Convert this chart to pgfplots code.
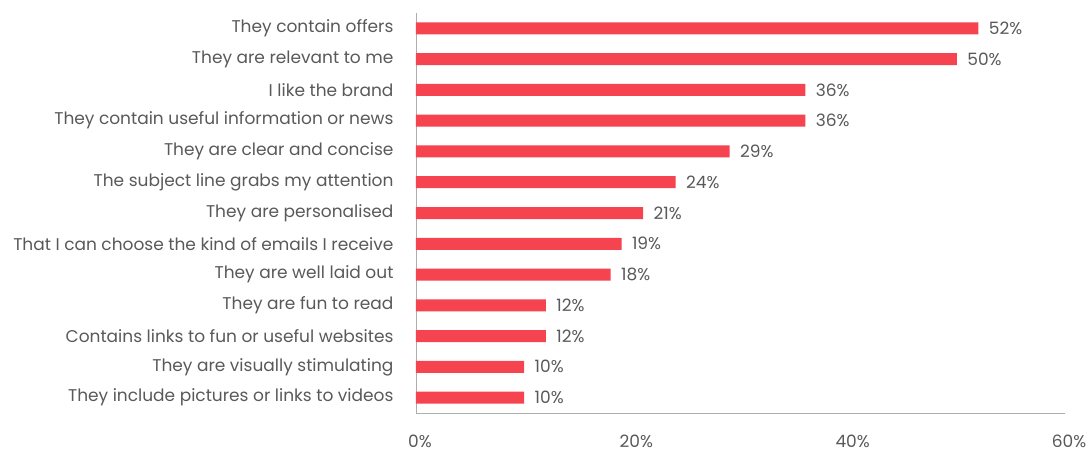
\documentclass[border=0pt]{standalone}
\usepackage{pgfplots}
\pgfplotsset{compat=1.18}
\usepackage{fontspec}
\setmainfont{Poppins}
\definecolor{barred}{HTML}{F5444F}
\definecolor{txtgray}{HTML}{595959}
\definecolor{axgray}{HTML}{ADADAD}

\pgfplotstableread{
idx val
0 52
1 50
2 36
3 36
4 29
5 24
6 21
7 19
8 18
9 12
10 12
11 10
12 10
}\reasons

\begin{document}
\begin{tikzpicture}[x=1pt,y=1pt]
\begin{axis}[
    name=ax,
    at={(0,0)}, anchor=south west,
    scale only axis,
    width=649pt, height=400pt,
    xbar, bar width=12pt,
    xmin=0, xmax=60,
    ymin=-0.5, ymax=12.5,
    y dir=reverse,
    axis lines*=left,
    axis line style={axgray, line width=0.8pt},
    xtick={0,20,40,60},
    xticklabel={\pgfmathprintnumber{\tick}\%},
    ytick=data,
    yticklabels={They contain offers, They are relevant to me, I like the brand,
      They contain useful information or news, They are clear and concise,
      The subject line grabs my attention, They are personalised,
      That I can choose the kind of emails I receive, They are well laid out,
      They are fun to read, Contains links to fun or useful websites,
      They are visually stimulating, They include pictures or links to videos},
    major tick length=0pt,
    tick label style={font=\fontsize{17}{19}\selectfont, text=txtgray},
    xticklabel style={yshift=-18pt, xshift=4pt},
    yticklabel style={xshift=-19pt},
    /pgf/number format/assume math mode=true,
    nodes near coords={\pgfmathprintnumber{\pgfplotspointmeta}\%},
    nodes near coords style={font=\fontsize{17}{19}\selectfont, text=txtgray, anchor=west, xshift=7pt},
    point meta=explicit,
]
\addplot[fill=barred, draw=none] table[x=val, y=idx, meta=val] {\reasons};
\end{axis}
\pgfresetboundingbox
\path ([shift={(-416pt,-39pt)}]ax.south west) rectangle ([shift={(674pt,413pt)}]ax.south west);
\end{tikzpicture}
\end{document}
